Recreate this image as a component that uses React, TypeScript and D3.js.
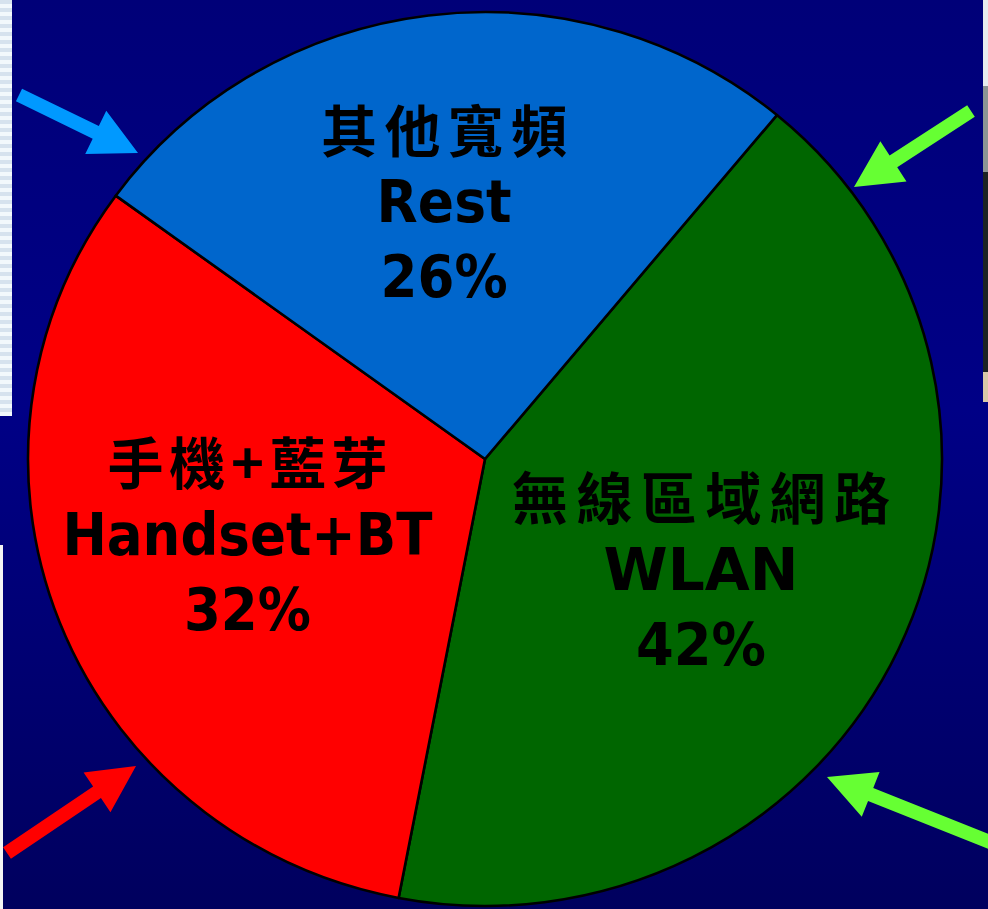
import { useRef, useEffect } from "react";
import * as d3 from "d3";

// slice values, clockwise from the upper right
const labelsZh = ["無線區域網路", "手機+藍芽", "其他寬頻"];
const labelsEn = ["WLAN", "Handset+BT", "Rest"];
const shares = [42, 32, 26];
const sliceColors = ["#006600", "#FF0000", "#0066CC"];

// measured widths of each text line in the picture
const textWidths: Record<string, number> = {
  "無線區域網路": 378,
  "手機+藍芽": 280,
  "其他寬頻": 246,
  WLAN: 195,
  "Handset+BT": 370,
  Rest: 135,
  "42%": 130,
  "32%": 127,
  "26%": 127,
};

// small nudges of each label block away from the arc centroid
const labelNudge = [
  [-10, 8],
  [-5, -12],
  [-10, -12],
];

// decorative arrows pointing at the pie
const arrows = [
  { from: [19, 95], to: [138, 153], color: "#0099FF" },
  { from: [971, 111], to: [854, 187], color: "#66FF33" },
  { from: [7, 853], to: [136, 766], color: "#FF0000" },
  { from: [1000, 846], to: [827, 777], color: "#66FF33" },
];

export default function App() {
  const svgRef = useRef<SVGSVGElement>(null);

  useEffect(() => {
    if (!svgRef.current) return;
    const svg = d3.select(svgRef.current);
    svg.selectAll("*").remove();

    const width = 988;
    const height = 909;
    const cx = 485;
    const cy = 459;
    const rx = 457;
    const ry = 447;

    const defs = svg.append("defs");
    const grad = defs
      .append("linearGradient")
      .attr("id", "bg")
      .attr("x1", 0)
      .attr("y1", 0)
      .attr("x2", 0)
      .attr("y2", 1);
    grad.append("stop").attr("offset", "0%").attr("stop-color", "#000078");
    grad.append("stop").attr("offset", "45%").attr("stop-color", "#000086");
    grad.append("stop").attr("offset", "100%").attr("stop-color", "#00005e");

    svg.append("rect").attr("width", width).attr("height", height).attr("fill", "url(#bg)");

    // slide edge leftovers
    const stripes = svg.append("g");
    for (let y = 0; y < 410; y += 8) {
      stripes.append("rect").attr("x", 0).attr("y", y).attr("width", 12).attr("height", 4).attr("fill", "#d6e2ee");
      stripes.append("rect").attr("x", 0).attr("y", y + 4).attr("width", 12).attr("height", 4).attr("fill", "#f2f8fc");
    }
    svg.append("rect").attr("x", 0).attr("y", 545).attr("width", 3).attr("height", 364).attr("fill", "#f4f4f4");
    svg.append("rect").attr("x", 983).attr("y", 0).attr("width", 5).attr("height", 86).attr("fill", "#e8ecee");
    svg.append("rect").attr("x", 983).attr("y", 86).attr("width", 5).attr("height", 86).attr("fill", "#8c9494");
    svg.append("rect").attr("x", 983).attr("y", 172).attr("width", 5).attr("height", 200).attr("fill", "#1c2224");
    svg.append("rect").attr("x", 983).attr("y", 372).attr("width", 5).attr("height", 30).attr("fill", "#d8c8a8");

    // pie, slightly squashed vertically like the source
    const pie = d3
      .pie<number>()
      .sort(null)
      .startAngle((39.7 * Math.PI) / 180)
      .endAngle((39.7 * Math.PI) / 180 + 2 * Math.PI);
    const arcs = pie(shares);
    const arc = d3.arc<d3.PieArcDatum<number>>().innerRadius(0).outerRadius(rx);

    const g = svg
      .append("g")
      .attr("transform", `translate(${cx},${cy}) scale(1,${ry / rx})`);

    g.selectAll("path.slice")
      .data(arcs)
      .join("path")
      .attr("class", "slice")
      .attr("d", arc)
      .attr("fill", (_, i) => sliceColors[i])
      .attr("stroke", "#000")
      .attr("stroke-width", 2.6)
      .attr("stroke-linejoin", "round");

    // labels at the centroid of a smaller arc
    const labelArc = d3.arc<d3.PieArcDatum<number>>().innerRadius(250).outerRadius(250);
    const labels = svg
      .append("g")
      .attr("transform", `translate(${cx},${cy})`)
      .selectAll("g")
      .data(arcs)
      .join("g")
      .attr("transform", (d, i) => {
        const [x, y] = labelArc.centroid(d);
        return `translate(${x + labelNudge[i][0]},${(y * ry) / rx + labelNudge[i][1]})`;
      });

    labels
      .append("text")
      .attr("y", -77)
      .attr("text-anchor", "middle")
      .attr("dominant-baseline", "central")
      .attr("font-family", "'Noto Sans CJK TC', sans-serif")
      .attr("font-weight", 700)
      .attr("font-size", "56px")
      .attr("fill", "#000")
      .attr("textLength", (_, i) => textWidths[labelsZh[i]])
      .attr("lengthAdjust", "spacing")
      .text((_, i) => labelsZh[i]);

    const latin = (sel: any, dy: number, f: (i: number) => string) =>
      sel
        .append("text")
        .attr("y", dy)
        .attr("text-anchor", "middle")
        .attr("font-family", "'DejaVu Sans', sans-serif")
        .attr("font-weight", 700)
        .attr("font-size", "58px")
        .attr("fill", "#000")
        .attr("textLength", (_: any, i: number) => textWidths[f(i)])
        .attr("lengthAdjust", "spacingAndGlyphs")
        .text((_: any, i: number) => f(i));

    latin(labels, 18, (i) => labelsEn[i]);
    latin(labels, 93, (i) => `${shares[i]}%`);

    // arrows
    const shaft = 14;
    const headW = 48;
    const headL = 47;
    arrows.forEach((a) => {
      const [x0, y0] = a.from;
      const [x1, y1] = a.to;
      const len = Math.hypot(x1 - x0, y1 - y0);
      const ang = (Math.atan2(y1 - y0, x1 - x0) * 180) / Math.PI;
      const b = len - headL;
      const pts = [
        [0, -shaft / 2],
        [b, -shaft / 2],
        [b, -headW / 2],
        [len, 0],
        [b, headW / 2],
        [b, shaft / 2],
        [0, shaft / 2],
      ];
      svg
        .append("polygon")
        .attr("transform", `translate(${x0},${y0}) rotate(${ang})`)
        .attr("points", pts.map((p) => p.join(",")).join(" "))
        .attr("fill", a.color);
    });
  }, []);

  return (
    <div style={{ position: "absolute", left: 0, top: 0 }}>
      <svg ref={svgRef} width={988} height={909} style={{ display: "block" }} />
    </div>
  );
}
